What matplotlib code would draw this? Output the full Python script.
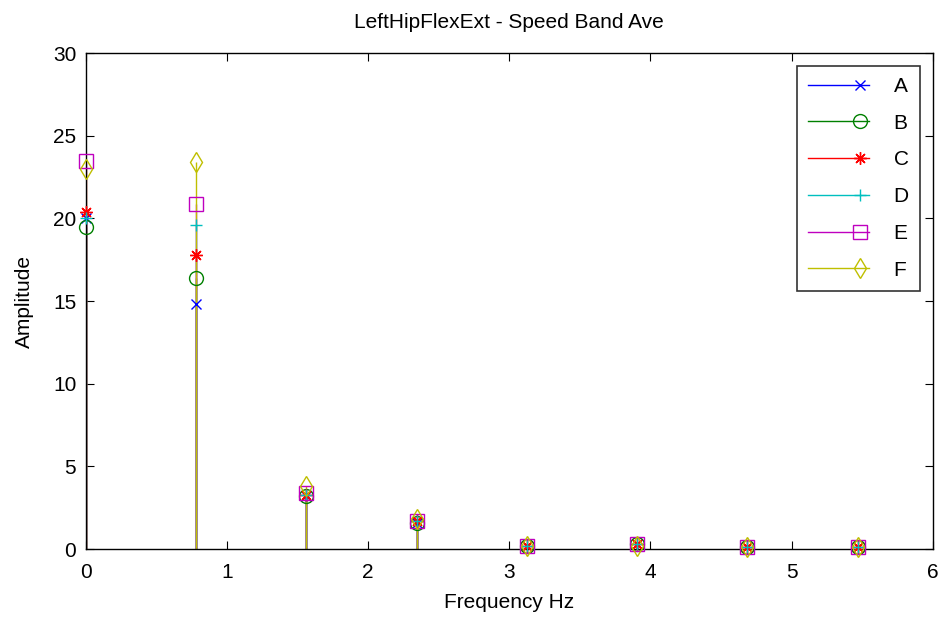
import matplotlib
matplotlib.use("Agg")
import matplotlib.pyplot as plt
from matplotlib.lines import Line2D
from matplotlib.legend_handler import HandlerBase
import numpy as np

freq = [0.0, 0.78125, 1.5625, 2.34375, 3.125, 3.90625, 4.6875, 5.46875]
series_names = ["A", "B", "C", "D", "E", "F"]
A = [20.0, 14.8, 3.2, 1.6, 0.2, 0.3, 0.1, 0.1]
B = [19.5, 16.4, 3.2, 1.6, 0.2, 0.3, 0.1, 0.1]
C = [20.4, 17.8, 3.3, 1.7, 0.2, 0.3, 0.1, 0.1]
D = [20.0, 19.6, 3.3, 1.7, 0.2, 0.3, 0.1, 0.1]
E = [23.5, 20.9, 3.4, 1.7, 0.2, 0.3, 0.1, 0.1]
F = [23.0, 23.4, 3.8, 1.8, 0.2, 0.2, 0.1, 0.1]
values = [A, B, C, D, E, F]
colors = ["#0000ff", "#008000", "#ff0000", "#00bfbf", "#bf00bf", "#bfbf00"]
markers = ["x", "o", (8, 2, 0), "+", "s", "d"]

plt.rcParams['font.family'] = ['Liberation Sans', 'DejaVu Sans']
fig = plt.figure(figsize=(9.45, 6.24), dpi=100)
ax = fig.add_axes([0.091, 0.120, 0.896, 0.795])


def msize(m):
    if m in ('s', 'd', 'o'):
        return 10
    if m == 'x':
        return 7
    return 9


class StemHandler(HandlerBase):
    def create_artists(self, legend, orig_handle, xdescent, ydescent, width,
                       height, fontsize, trans):
        c = orig_handle.get_color()
        m = orig_handle.get_marker()
        y = height / 2 - ydescent
        x0 = -xdescent
        line = Line2D([x0, x0 + width], [y, y], color=c, linewidth=1.0)
        mk = Line2D([x0 + width * 0.86], [y], color=c, marker=m, linestyle='none',
                    markersize=msize(m), markerfacecolor='none', markeredgewidth=1.0)
        line.set_transform(trans)
        mk.set_transform(trans)
        return [line, mk]


handles = []
for name, vals, c, m in zip(series_names, values, colors, markers):
    ml, sl, bl = ax.stem(freq, vals, linefmt='-', markerfmt=' ', basefmt=' ')
    plt.setp(sl, color=c, linewidth=1.0)
    ax.plot(freq, vals, linestyle='none', marker=m, color=c, markersize=msize(m),
            markerfacecolor='none', markeredgewidth=1.0, clip_on=False, zorder=3)
    handles.append(Line2D([], [], color=c, marker=m, label=name))

ax.set_xlim(0, 6)
ax.set_ylim(0, 30)
ax.set_xticks(range(0, 7))
ax.set_yticks(range(0, 31, 5))
ax.tick_params(direction='in', top=True, right=True, labelsize=15, length=6)
ax.tick_params(axis='x', pad=10)
ax.tick_params(axis='y', pad=7)
for s in ax.spines.values():
    s.set_linewidth(1.0)
ax.set_xlabel("Frequency Hz", fontsize=15, labelpad=8)
ax.set_ylabel("Amplitude", fontsize=15, labelpad=14)
ax.set_title("LeftHipFlexExt - Speed Band Ave", fontsize=15, pad=18)

leg = ax.legend(handles=handles, handler_map={Line2D: StemHandler()},
                loc='upper right', fontsize=15, frameon=True, fancybox=False,
                edgecolor='black', borderaxespad=0.6, handlelength=2.9,
                handletextpad=1.2, labelspacing=0.85, borderpad=0.55)
leg.get_frame().set_linewidth(1.2)

fig.savefig("out.png", dpi=100)
